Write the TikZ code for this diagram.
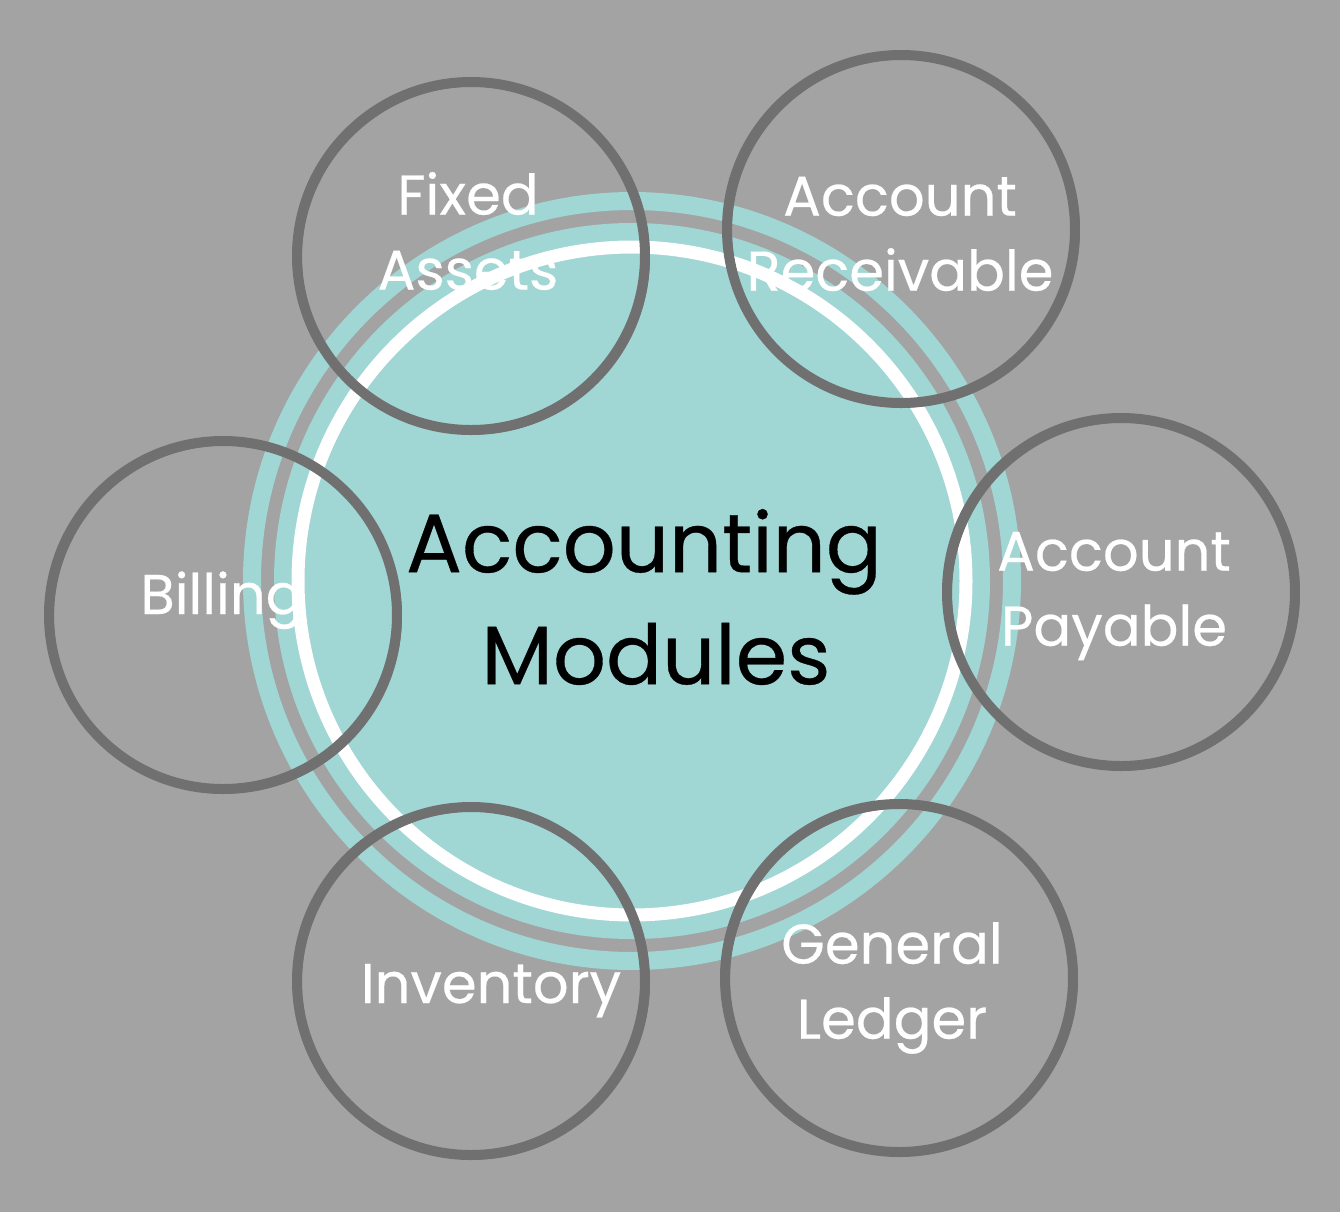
\documentclass[tikz,border=0pt]{standalone}
\usepackage{fontspec}
\setmainfont{Poppins}[FakeBold=0.4]
\definecolor{bggray}{HTML}{A3A3A3}
\definecolor{hubteal}{HTML}{A0D6D4}
\definecolor{ringgray}{HTML}{707070}
\tikzset{
  module/.style={circle, draw=ringgray, line width=5pt, minimum size=174pt, inner sep=0pt,
    postaction={draw=ringgray, line width=2.5pt, transform canvas={shift={(1.2pt,-1pt)}}}},
  modtext/.style={text=white, align=center, font=\fontsize{28}{37.5}\selectfont},
  hubtext/.style={text=black, align=center, font=\fontsize{41.5}{56}\selectfont}
}
\begin{document}
\begin{tikzpicture}[x=0.5pt, y=-0.5pt]

\fill[bggray] (0,0) rectangle (1340,1212);
\useasboundingbox (0,0) rectangle (1340,1212);

% central hub with its rings
\coordinate (hub) at (632,581);
\draw[hubteal, line width=9pt] (hub) circle (190pt);
\fill[hubteal] (hub) circle (179pt);
\draw[white, line width=6.5pt] (hub) circle (167pt);

% modules round the hub
\node[module] (fixed) at (471,256) {};
\node[module] (recv) at (901,229) {};
\node[module] (pay) at (1121,592) {};
\node[module] (bill) at (223,615) {};
\node[module] (inv) at (471,981) {};
\node[module] (ledger) at (899,978) {};

\node[hubtext] (title) at (644,597) {Accounting\\\hspace*{12pt}Modules};

\node[modtext] (fixedtext) at (468,231) {Fixed\\Assets};
\node[modtext] (recvtext) at (900,234) {Account\\Receivable};
\node[modtext] (paytext) at (1114,596) {Account\\Payable};
\node[modtext, anchor=base] (billtext) at (222,614) {Billing};
\node[modtext, anchor=base] (invtext) at (491,1003) {Inventory};
\node[modtext] (ledgertext) at (892,988) {General\\Ledger};

\end{tikzpicture}
\end{document}
